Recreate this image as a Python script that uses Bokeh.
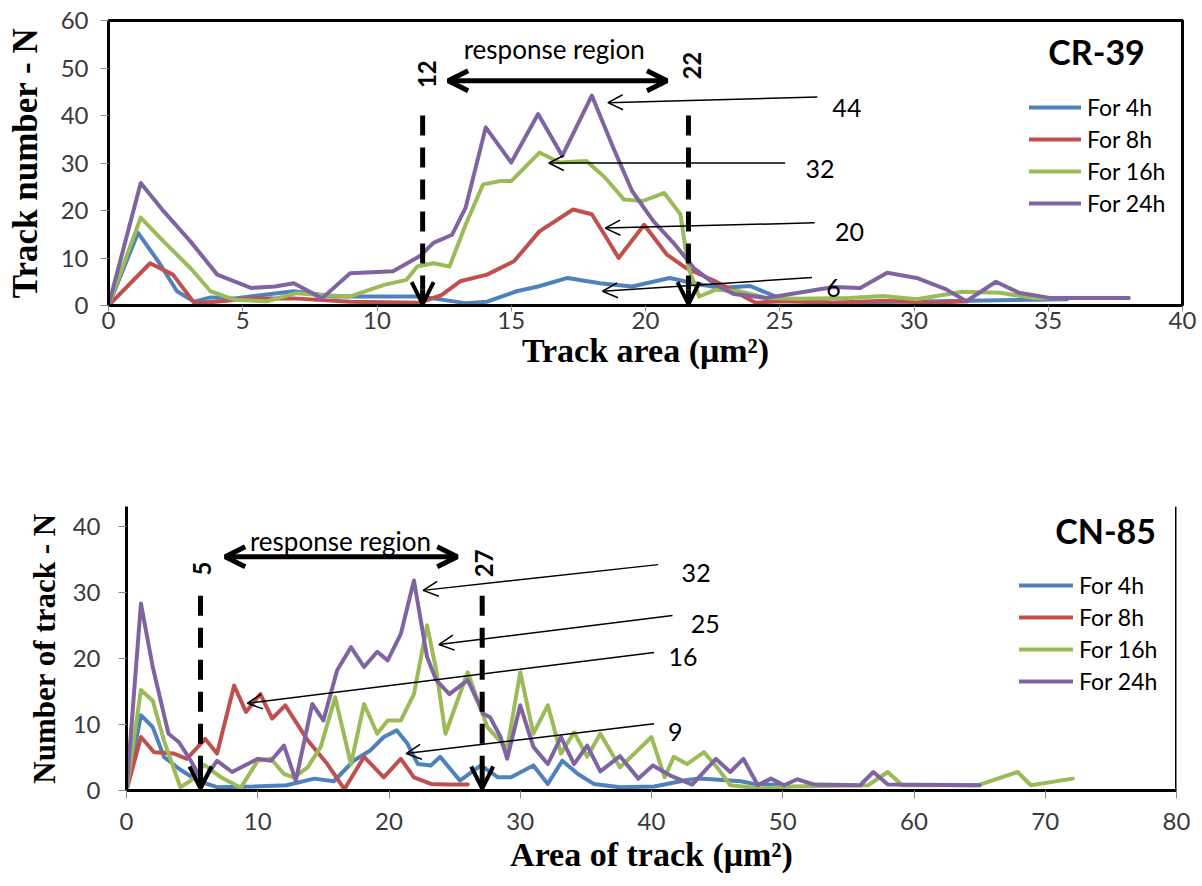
from math import pi
from bokeh.plotting import figure
from bokeh.models import Range1d, Legend, LegendItem, Arrow, OpenHead, Label, Span, FixedTicker
from bokeh.embed import file_html
from bokeh.resources import INLINE

# ------------------------- data : CR-39 (top) -------------------------
cr_x_ticks = [0, 5, 10, 15, 20, 25, 30, 35, 40]
cr_y_ticks = [0, 10, 20, 30, 40, 50, 60]

cr_4h_x = [0, 1.1, 1.9, 2.55, 3.2, 3.8, 4.7, 6.9, 8.4, 11.5, 12.1, 13.3, 14.1, 15.2, 16.0, 17.1, 18.3, 19.5,
           20.9, 21.8, 22.8, 23.9, 25.1, 27.0, 32.0, 35.7]
cr_4h_y = [0, 15.3, 8.9, 3.0, 0.8, 1.7, 1.5, 3.0, 1.9, 1.9, 1.5, 0.5, 0.8, 3.0, 4.0, 5.8, 4.7, 4.0,
           5.8, 4.7, 3.7, 4.1, 1.3, 0.6, 1.0, 1.3]

cr_8h_x = [0, 1.55, 2.4, 3.2, 4.0, 5.3, 6.9, 9.0, 11.6, 12.4, 13.1, 14.1, 15.1, 16.05, 17.3, 18.0, 18.55,
           19.0, 19.95, 20.8, 21.5, 22.6, 23.3, 24.1, 25.1, 27.0, 28.9, 30.7, 32.0]
cr_8h_y = [0, 8.9, 6.5, 0.5, 0.8, 1.5, 1.5, 0.8, 0.6, 2.2, 5.1, 6.5, 9.3, 15.6, 20.2, 19.2, 14.2,
           10.0, 17.0, 10.7, 7.9, 5.1, 3.0, 0.6, 0.9, 0.6, 1.0, 0.6, 0.9]

cr_16h_x = [0, 1.2, 2.05, 3.05, 3.8, 4.7, 5.9, 7.0, 7.9, 9.0, 10.3, 11.1, 11.5, 12.1, 12.7, 13.3, 13.95,
            14.6, 15.0, 16.05, 16.8, 17.8, 18.5, 19.2, 19.9, 20.7, 21.3, 21.6, 22.0, 22.6, 23.5, 24.5,
            25.7, 27.6, 28.85, 30.1, 31.8, 33.2, 34.4, 35.5]
cr_16h_y = [0, 18.5, 13.5, 7.9, 3.0, 1.2, 0.9, 2.6, 2.2, 1.9, 4.4, 5.4, 8.2, 8.9, 8.2, 17.0, 25.5,
            26.2, 26.2, 32.2, 30.1, 30.4, 26.9, 22.3, 22.0, 23.7, 19.2, 7.9, 1.9, 3.3, 3.0, 1.6,
            1.4, 1.6, 2.0, 1.3, 2.9, 2.7, 1.6, 1.5]

cr_24h_x = [0, 1.2, 2.0, 3.05, 4.05, 5.3, 6.2, 6.9, 7.95, 9.0, 10.6, 11.6, 12.1, 12.8, 13.3, 14.05, 15.0,
            16.0, 16.9, 18.0, 18.8, 19.5, 20.3, 21.1, 21.8, 22.6, 23.3, 24.5, 25.7, 27.0, 28.0, 29.0,
            30.1, 31.2, 31.95, 33.05, 33.9, 35.05, 36.9, 38.0]
cr_24h_y = [0, 25.8, 20.2, 13.5, 6.5, 3.7, 4.0, 4.7, 1.5, 6.8, 7.2, 10.4, 13.2, 14.9, 20.6, 37.5, 30.1,
            40.3, 31.5, 44.2, 33.2, 24.1, 17.7, 12.8, 7.9, 4.4, 2.4, 1.6, 2.7, 3.9, 3.7, 6.9,
            5.8, 3.4, 0.9, 5.0, 2.7, 1.6, 1.6, 1.6]

# peak annotations (value, arrow tail x/y, arrow head x/y, label x/y)
cr_peak_values = ["44", "32", "20", "6"]
cr_tail_x = [26.4, 25.2, 26.3, 26.2]
cr_tail_y = [43.9, 30.0, 17.4, 5.9]
cr_head_x = [18.6, 16.4, 18.5, 18.4]
cr_head_y = [42.7, 30.0, 16.3, 3.0]
cr_label_x = [27.5, 26.5, 27.6, 27.0]
cr_label_y = [41.6, 28.8, 15.5, 3.7]
cr_region = [11.7, 21.6]          # response region limits drawn as dashed arrows
cr_region_names = ["12", "22"]

# ------------------------- data : CN-85 (bottom) -------------------------
cn_x_ticks = [0, 10, 20, 30, 40, 50, 60, 70, 80]
cn_y_ticks = [0, 10, 20, 30, 40]

cn_4h_x = [0, 1.1, 2.0, 2.85, 4.0, 5.4, 6.9, 9.7, 12.2, 14.3, 15.8, 17.3, 18.6, 19.6, 20.6, 21.4, 22.2,
           23.2, 23.9, 25.4, 27.0, 28.3, 29.3, 31.0, 32.1, 33.2, 34.4, 35.6, 37.6, 40.2, 42.7, 43.7,
           46.8, 47.8, 50.1]
cn_4h_y = [0, 11.4, 9.6, 5.1, 3.3, 1.5, 0.5, 0.6, 0.8, 1.8, 1.4, 4.5, 6.1, 8.1, 9.1, 7.1, 4.0,
           3.8, 5.1, 1.5, 3.8, 2.0, 2.0, 3.8, 1.0, 4.5, 2.5, 1.0, 0.5, 0.6, 1.6, 1.8,
           1.4, 1.0, 0.8]

cn_8h_x = [0, 1.1, 2.1, 3.6, 4.6, 6.0, 6.9, 8.2, 9.1, 10.2, 11.1, 12.1, 13.8, 15.3, 16.6, 18.1, 19.6,
           20.9, 21.9, 23.2, 24.5, 26.0]
cn_8h_y = [0, 8.1, 5.8, 5.6, 4.8, 7.8, 5.6, 15.9, 11.9, 14.6, 10.9, 12.9, 7.6, 4.0, 0.2, 5.1, 2.0,
           4.8, 2.0, 1.0, 0.9, 0.9]

cn_16h_x = [0, 1.1, 2.0, 2.85, 4.1, 4.9, 5.9, 7.2, 8.7, 10.0, 11.0, 12.0, 12.75, 13.8, 14.8, 15.9, 17.1,
            18.1, 19.1, 19.9, 20.9, 21.9, 22.9, 23.6, 24.3, 26.0, 26.85, 27.5, 29.0, 30.0, 31.0, 32.1,
            33.1, 34.1, 35.1, 36.1, 37.6, 40.0, 41.0, 41.7, 42.7, 44.0, 45.0, 46.0, 48.4, 50.7, 56.5,
            58.0, 59.1, 64.9, 67.9, 68.9, 72.1]
cn_16h_y = [0, 15.2, 13.6, 7.6, 0.5, 1.5, 3.9, 2.0, 0.4, 4.5, 4.8, 2.5, 2.0, 3.5, 6.6, 14.1, 4.0,
            13.1, 8.6, 10.6, 10.6, 14.6, 25.0, 18.2, 8.6, 17.9, 13.1, 9.6, 6.3, 17.9, 8.6, 12.9,
            5.6, 8.8, 5.1, 8.6, 3.5, 8.1, 2.0, 5.1, 4.0, 5.8, 3.5, 0.8, 0.3, 0.6, 0.8,
            2.8, 0.8, 0.8, 2.8, 0.8, 1.8]

cn_24h_x = [0, 1.1, 2.0, 3.2, 4.0, 4.9, 5.8, 6.9, 8.05, 10.0, 11.0, 12.0, 12.9, 14.15, 15.0, 16.05, 17.1,
            18.1, 19.1, 19.9, 20.9, 21.9, 22.9, 23.6, 24.6, 26.0, 27.2, 27.7, 28.5, 29.0, 30.0, 31.0,
            32.1, 33.1, 34.1, 35.1, 36.1, 37.6, 39.0, 40.1, 41.4, 43.1, 44.9, 46.0, 47.0, 48.1, 49.1,
            50.1, 51.1, 52.4, 55.9, 56.9, 58.0, 65.0]
cn_24h_y = [0, 28.3, 18.7, 8.6, 7.3, 4.5, 1.3, 4.5, 2.8, 4.8, 4.5, 6.8, 1.5, 13.1, 10.6, 18.2, 21.7,
            18.7, 21.0, 19.7, 23.7, 31.8, 20.2, 16.7, 14.6, 16.7, 11.6, 11.1, 8.1, 4.8, 12.9, 6.6,
            4.0, 8.1, 4.0, 6.8, 2.9, 5.2, 1.8, 3.8, 2.3, 0.9, 4.8, 2.8, 4.8, 0.8, 1.8,
            0.8, 1.7, 0.9, 0.8, 2.8, 0.9, 0.8]

cn_peak_values = ["32", "25", "16", "9"]
cn_tail_x = [40.5, 41.6, 40.2, 40.2]
cn_tail_y = [34.2, 26.5, 20.9, 10.1]
cn_head_x = [22.6, 23.8, 9.2, 21.3]
cn_head_y = [30.3, 22.1, 13.2, 5.6]
cn_label_x = [43.4, 44.1, 42.4, 41.8]
cn_label_y = [32.9, 25.2, 20.2, 8.8]
cn_region = [5.64, 27.1]
cn_region_names = ["5", "27"]

series_names = ["For 4h", "For 8h", "For 16h", "For 24h"]
colors = ["#4F81BD", "#C0504D", "#9BBB59", "#8064A2"]

SANS = "Lato"
SERIF = "Liberation Serif"


def style_axes(p, xticks, yticks):
    p.xgrid.visible = False
    p.ygrid.visible = False
    p.xaxis.ticker = FixedTicker(ticks=xticks)
    p.yaxis.ticker = FixedTicker(ticks=yticks)
    for ax in (p.xaxis, p.yaxis):
        ax.axis_line_color = "black"
        ax.axis_line_width = 3
        ax.major_tick_line_color = "#8c8c8c"
        ax.major_tick_line_width = 1
        ax.major_tick_out = 8
        ax.major_tick_in = 0
        ax.minor_tick_line_color = None
        ax.major_label_text_font = SANS
        ax.major_label_text_font_size = "24px"
        ax.major_label_text_color = "#3a3a3a"
        ax.axis_label_text_font = SERIF
        ax.axis_label_text_font_style = "bold"
        ax.axis_label_text_color = "black"


def add_text(p, x, y, text, size, bold=False, angle=0.0, align="center", font=SANS):
    p.add_layout(Label(x=x, y=y, text=text, text_font=font, text_font_size=size,
                       text_font_style="bold" if bold else "normal", text_color="black",
                       text_align=align, text_baseline="middle", angle=angle))


def build(xs, ys, xr, yr, xticks, yticks, w, h, borders, legend_loc, glyph_w):
    p = figure(width=w, height=h, x_range=Range1d(*xr), y_range=Range1d(*yr),
               output_backend="svg", toolbar_location=None,
               min_border_left=borders[0], min_border_right=borders[1],
               min_border_top=borders[2], min_border_bottom=borders[3])
    style_axes(p, xticks, yticks)
    rends = []
    for x, y, c in zip(xs, ys, colors):
        rends.append(p.line(x, y, line_color=c, line_width=4, line_join="round", line_cap="round"))
    legend = Legend(items=[LegendItem(label=n, renderers=[r]) for n, r in zip(series_names, rends)],
                    location=legend_loc, border_line_color=None, background_fill_alpha=0,
                    padding=0, margin=0, spacing=0, glyph_width=glyph_w, glyph_height=32,
                    label_height=32, label_standoff=6, label_text_font=SANS,
                    label_text_font_size="23px", label_text_color="black")
    p.add_layout(legend)
    return p


def annotate(p, region, region_names, name_y, dash_top, tip_y, arrow_span, arrow_y, region_text_xy,
             tails_x, tails_y, heads_x, heads_y, labels_x, labels_y, values, title, title_xy, head_len):
    for xv, nm, ny in zip(region, region_names, name_y):
        # dashed shaft
        p.add_layout(Arrow(x_start=xv, y_start=dash_top, x_end=xv, y_end=tip_y + head_len,
                           line_width=5, line_color="black", line_dash="20 12", end=None))
        # solid head at the bottom
        p.add_layout(Arrow(x_start=xv, y_start=tip_y + head_len, x_end=xv, y_end=tip_y,
                           line_width=5, line_color="black",
                           end=OpenHead(size=22, line_width=4, line_color="black")))
        add_text(p, xv + (0.15 if len(nm) > 1 else 0.1), ny, nm, "24px", bold=True, angle=pi / 2)
    p.add_layout(Arrow(x_start=arrow_span[0], y_start=arrow_y, x_end=arrow_span[1], y_end=arrow_y,
                       line_width=5, line_color="black",
                       start=OpenHead(size=20, line_width=5, line_color="black"),
                       end=OpenHead(size=20, line_width=5, line_color="black")))
    add_text(p, region_text_xy[0], region_text_xy[1], "response region", "26px")
    for tx, ty, hx, hy, lx, ly, v in zip(tails_x, tails_y, heads_x, heads_y, labels_x, labels_y, values):
        p.add_layout(Arrow(x_start=tx, y_start=ty, x_end=hx, y_end=hy, line_width=1.5,
                           line_color="black",
                           end=OpenHead(size=15, line_width=1.5, line_color="black")))
        add_text(p, lx, ly, v, "25px")
    add_text(p, title_xy[0], title_xy[1], title, "34px", bold=True)


# ---------------- top chart ----------------
p1 = build([cr_4h_x, cr_8h_x, cr_16h_x, cr_24h_x], [cr_4h_y, cr_8h_y, cr_16h_y, cr_24h_y],
           (0, 40), (0, 60), cr_x_ticks, cr_y_ticks, 1202, 390, (108, 20, 20, 85), (921, 86), 52)
p1.outline_line_color = "black"
p1.outline_line_width = 3
p1.xaxis.axis_label = "Track area (μm²)"
p1.yaxis.axis_label = "Track number - N"
p1.xaxis.axis_label_text_font_size = "34px"
p1.yaxis.axis_label_text_font_size = "35px"
p1.xaxis.major_tick_out = 6
p1.xaxis.major_label_standoff = 0
p1.xaxis.axis_label_standoff = 0
p1.yaxis.major_label_standoff = 12
p1.yaxis.axis_label_standoff = 13
annotate(p1, cr_region, cr_region_names, [48.7, 50.5], 40.0, 0.3, (12.65, 20.8), 47.3, (16.6, 54.0),
         cr_tail_x, cr_tail_y, cr_head_x, cr_head_y, cr_label_x, cr_label_y, cr_peak_values,
         "CR-39", (36.8, 53.4), 3.0)

# ---------------- bottom chart ----------------
p2 = build([cn_4h_x, cn_8h_x, cn_16h_x, cn_24h_x], [cn_4h_y, cn_8h_y, cn_16h_y, cn_24h_y],
           (0, 80), (0, 43), cn_x_ticks, cn_y_ticks, 1202, 496, (126, 26, 116, 96), (893, 93), 54)
p2.outline_line_color = None
p2.add_layout(Span(location=80, dimension="height", line_color="black", line_width=3))
p2.xaxis.axis_label = "Area of track (μm²)"
p2.yaxis.axis_label = "Number of track - N"
p2.xaxis.axis_label_text_font_size = "34px"
p2.yaxis.axis_label_text_font_size = "31px"
p2.xaxis.major_label_standoff = 14
p2.xaxis.axis_label_standoff = 3
p2.yaxis.major_label_standoff = 18
p2.yaxis.axis_label_standoff = 8
annotate(p2, cn_region, cn_region_names, [33.6, 34.4], 29.5, 0.3, (7.52, 25.2), 35.4, (16.3, 37.8),
         cn_tail_x, cn_tail_y, cn_head_x, cn_head_y, cn_label_x, cn_label_y, cn_peak_values,
         "CN-85", (74.6, 39.4), 2.2)

# two independent roots stacked on the page (keeps each chart's own frame position)
open("out.html", "w").write(file_html([p1, p2], INLINE))
